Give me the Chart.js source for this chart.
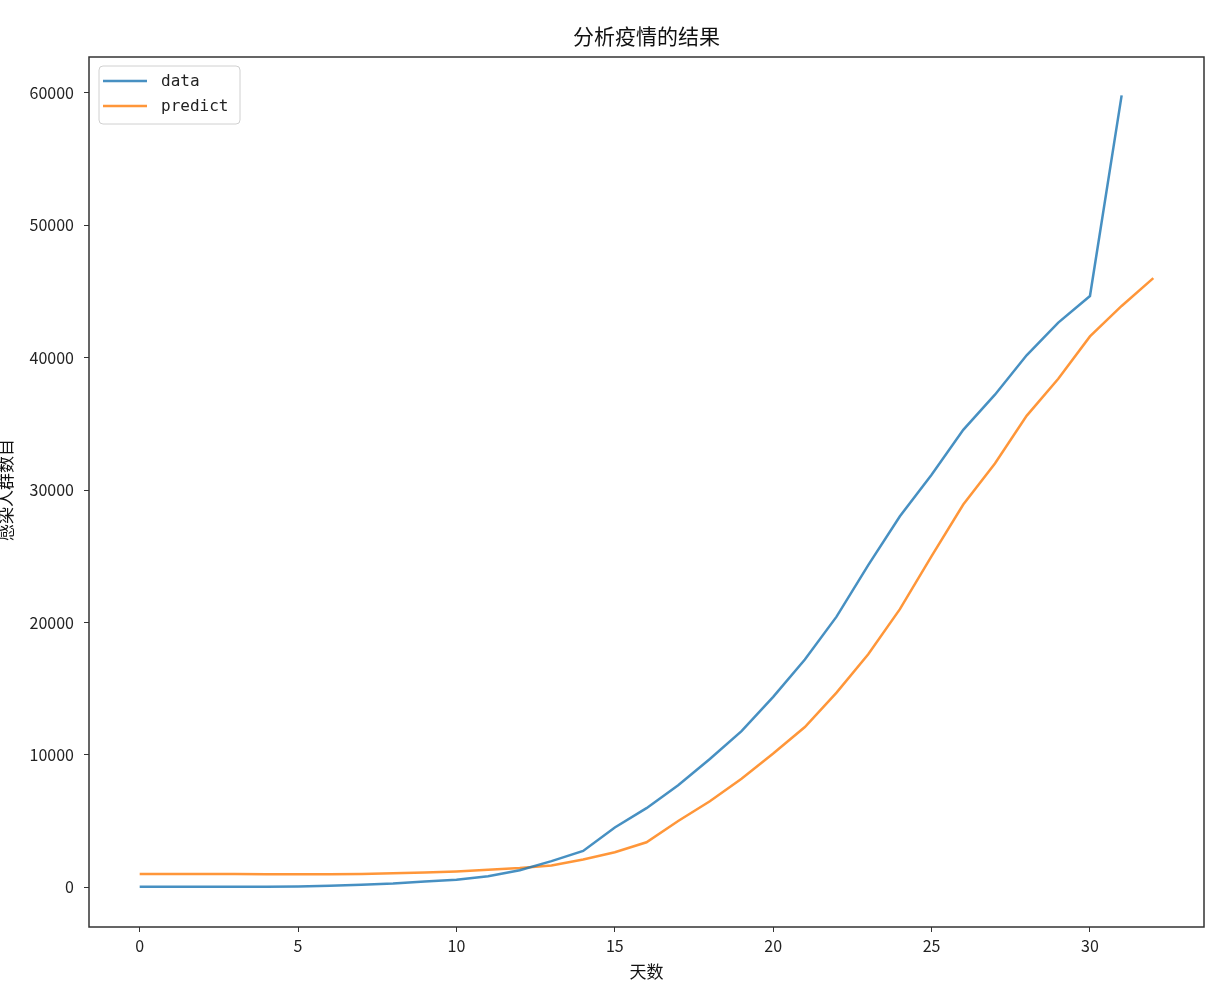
<!DOCTYPE html>
<html>
<head>
<meta charset="utf-8">
<script src="https://cdn.jsdelivr.net/npm/chart.js@4/dist/chart.umd.min.js"></script>
<style>
  html,body{margin:0;padding:0;background:#fff;}
  #wrap{width:1212px;height:1002px;}
</style>
</head>
<body>
<div id="wrap"><canvas id="c" width="1212" height="1002"></canvas></div>
<script>
/* epidemic fit chart */
const days = [0,1,2,3,4,5,6,7,8,9,10,11,12,13,14,15,16,17,18,19,20,21,22,23,24,25,26,27,28,29,30,31,32];
const dataVals = [41,41,41,41,45,62,121,198,291,440,571,830,1287,1975,2744,4515,5974,7711,9692,11791,14380,17205,20438,24324,28018,31161,34546,37198,40171,42638,44653,59804];
const predictVals = [1000,1000,1000,1000,990,990,990,1000,1050,1120,1200,1320,1450,1650,2100,2650,3400,5000,6500,8200,10100,12100,14700,17600,21000,25000,28900,32000,35600,38400,41600,43900,46000];
const xTicks = [0,5,10,15,20,25,30];
const yTicks = [0,10000,20000,30000,40000,50000,60000];
const titleText = '分析疫情的结果';
const xLabel = '天数';
const yLabel = '感染人群数目';

const CJK = '"Noto Sans CJK SC", "Noto Sans", sans-serif';
const MONO = '"DejaVu Sans Mono", monospace';

const pts = vals => vals.map((v,i)=>({x:days[i], y:v}));

const decor = {
  id:'decor',
  afterDraw(chart){
    const {ctx, chartArea:a} = chart;
    ctx.save();
    // frame
    ctx.strokeStyle = '#333'; ctx.lineWidth = 1.5;
    ctx.strokeRect(a.left, a.top, a.right-a.left, a.bottom-a.top);
    // titles
    ctx.fillStyle = '#111';
    ctx.textAlign = 'center'; ctx.textBaseline = 'middle';
    ctx.font = '21px ' + CJK;
    ctx.fillText(titleText, (a.left+a.right)/2, 36);
    ctx.font = '17px ' + CJK;
    ctx.fillText(xLabel, (a.left+a.right)/2, 972);
    ctx.save();
    ctx.translate(6, 490); ctx.rotate(-Math.PI/2);
    ctx.fillText(yLabel, 0, 0);
    ctx.restore();
    // legend
    const lx = a.left+10, ly = a.top+9, lw = 141, lh = 58;
    ctx.beginPath();
    ctx.roundRect(lx, ly, lw, lh, 4);
    ctx.fillStyle = 'rgba(255,255,255,0.9)'; ctx.fill();
    ctx.strokeStyle = '#d0d0d0'; ctx.lineWidth = 1; ctx.stroke();
    ctx.font = '16px ' + MONO; ctx.textAlign = 'left';
    chart.data.datasets.forEach((ds,i)=>{
      const yy = ly + 15 + i*25;
      ctx.strokeStyle = ds.borderColor; ctx.lineWidth = 2.5;
      ctx.beginPath(); ctx.moveTo(lx+4, yy); ctx.lineTo(lx+48, yy); ctx.stroke();
      ctx.fillStyle = '#222';
      ctx.fillText(ds.label, lx+62, yy+1);
    });
    ctx.restore();
  }
};

new Chart(document.getElementById('c'), {
  type:'line',
  data:{ datasets:[
    { label:'data', data:pts(dataVals), borderColor:'rgba(31,119,180,0.82)', borderWidth:2.5, pointRadius:0, fill:false, tension:0 },
    { label:'predict', data:pts(predictVals), borderColor:'rgba(255,127,14,0.82)', borderWidth:2.5, pointRadius:0, fill:false, tension:0 }
  ]},
  options:{
    responsive:false, animation:false,
    layout:{ padding:{ top:57, right:8, left:0, bottom:0 } },
    plugins:{ legend:{display:false}, tooltip:{enabled:false}, title:{display:false} },
    scales:{
      x:{
        type:'linear', min:-1.6, max:33.6,
        afterBuildTicks: s => { s.ticks = xTicks.map(v=>({value:v})); },
        afterFit: s => { s.height = 75; },
        grid:{ drawOnChartArea:false, drawTicks:true, tickLength:5, color:'#333', lineWidth:1 },
        border:{ display:false },
        ticks:{ color:'#222', font:{ size:16, family:CJK }, padding:4, maxRotation:0, callback: v => String(v) }
      },
      y:{
        type:'linear', min:-3000, max:62700,
        afterBuildTicks: s => { s.ticks = yTicks.map(v=>({value:v})); },
        afterFit: s => { s.width = 89; },
        grid:{ drawOnChartArea:false, drawTicks:true, tickLength:5, color:'#333', lineWidth:1 },
        border:{ display:false },
        ticks:{ color:'#222', font:{ size:16, family:CJK }, padding:10, callback: v => String(v) }
      }
    }
  },
  plugins:[decor]
});
</script>
</body>
</html>
